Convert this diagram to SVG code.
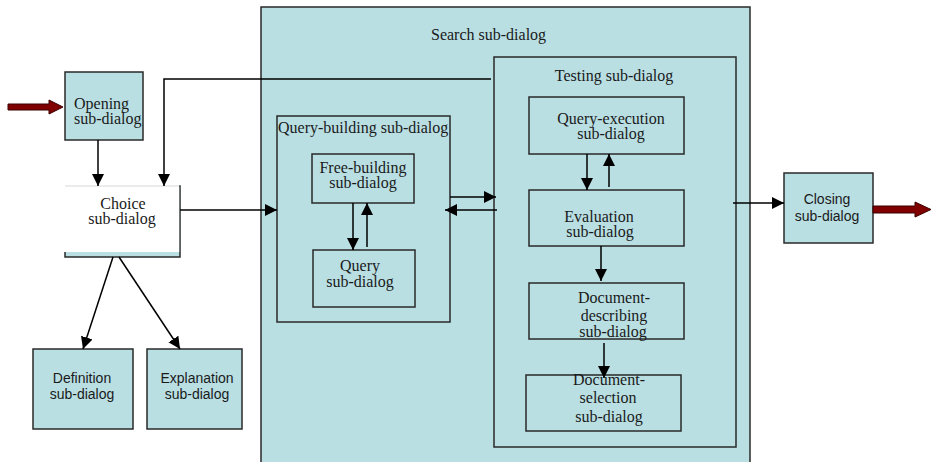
<svg xmlns="http://www.w3.org/2000/svg" width="932" height="462" viewBox="0 0 932 462">
  <style>
    .box { fill: #b9dfe3; stroke: #2a2a2a; stroke-width: 1.5; }
    .frame { fill: none; stroke: #2a2a2a; stroke-width: 1.5; }
    .serif { font-family: "Liberation Serif", "Times New Roman", serif; font-size: 16px; fill: #1a1a1a; }
    .sans { font-family: "Liberation Sans", Arial, sans-serif; font-size: 14px; fill: #1a1a1a; }
    .mid { text-anchor: middle; }
    .edge { fill: none; stroke: #000; stroke-width: 1.5; }
    .fat { fill: #800000; stroke: #3a0000; stroke-width: 1; }
  </style>
  <defs>
    <marker id="tip" viewBox="0 0 12 12" refX="12" refY="6" markerWidth="12" markerHeight="12" markerUnits="userSpaceOnUse" orient="auto">
      <path d="M0,0 L12,6 L0,12 Z" fill="#000"/>
    </marker>
  </defs>

  <!-- outer search container -->
  <g id="search">
    <rect class="box" x="261" y="7" width="489" height="470"/>
    <text class="serif" x="431" y="40">Search sub-dialog</text>
  </g>

  <g id="opening">
    <rect class="box" x="65" y="72" width="78" height="68"/>
    <text class="serif" x="74" y="109">Opening</text>
    <text class="serif" x="74" y="124">sub-dialog</text>
  </g>

  <g id="choice">
    <rect class="box" x="65" y="186" width="115" height="71"/>
    <!-- white label panel laid over the upper part of the box -->
    <rect x="64" y="185" width="115.2" height="67" fill="#fff"/>
    <line x1="65" y1="186" x2="179" y2="186" stroke="#d8d8d8" stroke-width="1"/>
    <text class="serif mid" x="123" y="209">Choice</text>
    <text class="serif mid" x="122" y="224">sub-dialog</text>
  </g>

  <g id="definition">
    <rect class="box" x="33" y="349" width="100" height="80"/>
    <text class="sans mid" x="82" y="383">Definition</text>
    <text class="sans mid" x="82" y="399">sub-dialog</text>
  </g>

  <g id="explanation">
    <rect class="box" x="147" y="349" width="95" height="80"/>
    <text class="sans mid" x="197" y="383">Explanation</text>
    <text class="sans mid" x="197" y="399">sub-dialog</text>
  </g>

  <g id="query-building">
    <rect class="frame" x="277" y="116" width="173" height="206"/>
    <text class="serif" x="278" y="133">Query-building sub-dialog</text>
  </g>

  <g id="free-building">
    <rect class="frame" x="312" y="154" width="102" height="49"/>
    <text class="serif mid" x="363" y="173">Free-building</text>
    <text class="serif mid" x="363" y="188">sub-dialog</text>
  </g>

  <g id="query">
    <rect class="frame" x="313" y="250" width="102" height="57"/>
    <text class="serif mid" x="360" y="271">Query</text>
    <text class="serif mid" x="360" y="287">sub-dialog</text>
  </g>

  <g id="testing">
    <rect class="frame" x="494" y="57" width="242" height="390"/>
    <text class="serif mid" x="614" y="81">Testing sub-dialog</text>
  </g>

  <g id="query-execution">
    <rect class="frame" x="529" y="97" width="155" height="57"/>
    <text class="serif mid" x="611" y="124">Query-execution</text>
    <text class="serif mid" x="611" y="139">sub-dialog</text>
  </g>

  <g id="evaluation">
    <rect class="frame" x="529" y="190" width="155" height="56"/>
    <text class="serif mid" x="599" y="222">Evaluation</text>
    <text class="serif mid" x="600" y="237">sub-dialog</text>
  </g>

  <g id="document-describing">
    <rect class="frame" x="529" y="283" width="155" height="56"/>
    <text class="serif mid" x="614" y="303">Document-</text>
    <text class="serif mid" x="614" y="321">describing</text>
    <text class="serif mid" x="613" y="337">sub-dialog</text>
  </g>

  <g id="document-selection">
    <rect class="frame" x="526" y="375" width="155" height="56"/>
    <text class="serif mid" x="609" y="385">Document-</text>
    <text class="serif mid" x="608" y="403">selection</text>
    <text class="serif mid" x="609" y="422">sub-dialog</text>
  </g>

  <g id="closing">
    <rect class="box" x="784" y="173" width="89" height="70"/>
    <text class="sans mid" x="827" y="204">Closing</text>
    <text class="sans mid" x="827" y="221">sub-dialog</text>
  </g>

  <g id="connectors">
    <!-- entry and exit arrows -->
    <path class="fat" d="M8,104 L49,104 L49,100 L63,107 L49,114 L49,110 L8,110 Z"/>
    <path class="fat" d="M873,206 L915,206 L915,202 L931,209.5 L915,217 L915,213 L873,213 Z"/>

    <line class="edge" x1="98" y1="140" x2="98" y2="186" marker-end="url(#tip)"/>
    <polyline class="edge" points="491,79 164,79 164,186" marker-end="url(#tip)"/>
    <line class="edge" x1="180" y1="210" x2="277" y2="210" marker-end="url(#tip)"/>
    <line class="edge" x1="113" y1="257" x2="83" y2="349" marker-end="url(#tip)"/>
    <line class="edge" x1="119" y1="257" x2="180" y2="349" marker-end="url(#tip)"/>

    <line class="edge" x1="353" y1="203" x2="353" y2="250" marker-end="url(#tip)"/>
    <line class="edge" x1="367" y1="247" x2="367" y2="203" marker-end="url(#tip)"/>

    <line class="edge" x1="450" y1="197" x2="496" y2="197" marker-end="url(#tip)"/>
    <line class="edge" x1="497" y1="210" x2="445" y2="210" marker-end="url(#tip)"/>

    <line class="edge" x1="587" y1="154" x2="587" y2="190" marker-end="url(#tip)"/>
    <line class="edge" x1="609" y1="187" x2="609" y2="154" marker-end="url(#tip)"/>
    <line class="edge" x1="601" y1="246" x2="601" y2="281" marker-end="url(#tip)"/>
    <line class="edge" x1="604" y1="343" x2="604" y2="378" marker-end="url(#tip)"/>

    <line class="edge" x1="733" y1="203" x2="784" y2="203" marker-end="url(#tip)"/>
  </g>
</svg>
